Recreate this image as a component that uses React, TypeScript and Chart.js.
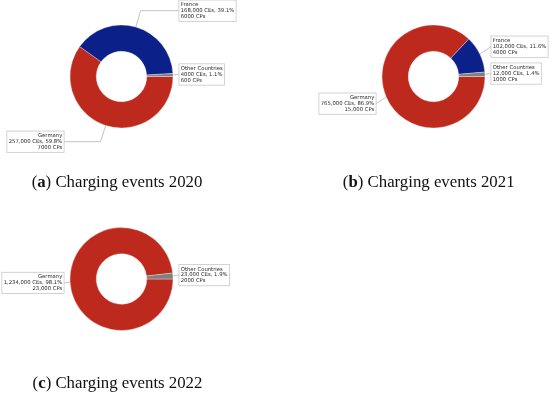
import React, { useEffect, useRef } from 'react';
import { Chart, registerables } from 'chart.js';

Chart.register(...registerables);

// ---- data ----
const countries = ['Germany', 'France', 'Other Countries'];
const countries2022 = ['Germany', 'Other Countries'];

const ces2020 = [257000, 168000, 4000];
const pct2020 = ['59.8', '39.1', '1.1'];
const cps2020 = [7000, 6000, 600];

const ces2021 = [765000, 102000, 12000];
const pct2021 = ['86.9', '11.6', '1.4'];
const cps2021 = [15000, 4000, 1000];

const ces2022 = [1234000, 23000];
const pct2022 = ['98.1', '1.9'];
const cps2022 = [23000, 2000];

const captions = [
  { letter: 'a', text: ' Charging events 2020' },
  { letter: 'b', text: ' Charging events 2021' },
  { letter: 'c', text: ' Charging events 2022' },
];

// ---- styles ----
const countryColors: Record<string, string> = {
  Germany: '#BE291D',
  France: '#0B2189',
  'Other Countries': '#7F7F7F',
};

const FONT_SIZE = 5.3;
const LINE_H = 5.9;
const PAD = 1.8;

function fmt(n: number): string {
  return n >= 10000 ? n.toLocaleString('en-US') : String(n);
}

function buildLines(names: string[], ces: number[], pct: string[], cps: number[]): string[][] {
  return names.map((n, i) => [n, `${fmt(ces[i])} CEs, ${pct[i]}%`, `${fmt(cps[i])} CPs`]);
}

const calloutPlugin = {
  id: 'callouts',
  beforeDatasetsDraw(chart: any, _args: any, opts: any) {
    const ctx: CanvasRenderingContext2D = chart.ctx;
    const meta = chart.getDatasetMeta(0);
    const lines: string[][] = opts.lines || [];
    ctx.save();
    ctx.font = `${FONT_SIZE}px "DejaVu Sans"`;
    meta.data.forEach((arc: any, i: number) => {
      const { x, y, startAngle, endAngle, outerRadius } = arc.getProps(
        ['x', 'y', 'startAngle', 'endAngle', 'outerRadius'],
        true
      );
      const mid = (startAngle + endAngle) / 2;
      const c = Math.cos(mid);
      const s = Math.sin(mid);
      const ax = x + outerRadius * c;
      const ay = y + outerRadius * s;
      const side = c >= 0 ? 1 : -1;
      const tx = x + side * 1.15 * outerRadius;
      const ty = y + 1.33 * outerRadius * s;
      const txt = lines[i] || [];
      const w = Math.max(...txt.map((t) => ctx.measureText(t).width));
      const h = txt.length * LINE_H;
      const boxL = side > 0 ? tx - PAD : tx - w - PAD;
      const boxW = w + 2 * PAD;
      const boxT = ty - h / 2 - PAD;
      const boxH = h + 2 * PAD;
      const edgeX = side > 0 ? boxL : boxL + boxW;

      // leader line
      ctx.strokeStyle = '#b4b4b4';
      ctx.lineWidth = 0.8;
      ctx.beginPath();
      ctx.moveTo(edgeX, ty);
      let drewCorner = false;
      if (Math.abs(s) > 1e-3) {
        const cornerX = x + ((ty - y) * c) / s;
        if ((cornerX - ax) * side >= 0 && (edgeX - cornerX) * side >= 0) {
          ctx.lineTo(cornerX, ty);
          drewCorner = true;
        }
      }
      ctx.lineTo(ax, ay);
      ctx.stroke();
      void drewCorner;

      // box
      ctx.fillStyle = '#ffffff';
      ctx.fillRect(boxL, boxT, boxW, boxH);
      ctx.strokeStyle = '#c8c8c8';
      ctx.lineWidth = 0.8;
      ctx.strokeRect(boxL, boxT, boxW, boxH);

      // text
      ctx.fillStyle = '#2a2a2a';
      ctx.textBaseline = 'middle';
      ctx.textAlign = side > 0 ? 'left' : 'right';
      txt.forEach((t, j) => {
        ctx.fillText(t, tx, ty - h / 2 + LINE_H * (j + 0.5));
      });
    });
    ctx.restore();
  },
};

type DonutProps = {
  names: string[];
  ces: number[];
  pct: string[];
  cps: number[];
  left: number;
  top: number;
  width: number;
  height: number;
  cx: number;
  cy: number;
};

const RADIUS = 51.5;

function Donut({ names, ces, pct, cps, left, top, width, height, cx, cy }: DonutProps) {
  const ref = useRef<HTMLCanvasElement | null>(null);
  useEffect(() => {
    if (!ref.current) return;
    const half = RADIUS + 2;
    const chart = new Chart(ref.current, {
      type: 'doughnut',
      data: {
        labels: names,
        datasets: [
          {
            data: ces,
            backgroundColor: names.map((n) => countryColors[n]),
            borderColor: 'rgba(255,255,255,0.55)',
            borderWidth: 0.6,
          },
        ],
      },
      options: {
        responsive: false,
        animation: false,
        devicePixelRatio: 1,
        rotation: 90,
        radius: RADIUS,
        cutout: '49%',
        layout: {
          padding: {
            left: cx - half,
            top: cy - half,
            right: width - (cx + half),
            bottom: height - (cy + half),
          },
        },
        plugins: {
          legend: { display: false },
          tooltip: { enabled: false },
          callouts: { lines: buildLines(names, ces, pct, cps) },
        } as any,
        events: [],
      },
      plugins: [calloutPlugin],
    });
    return () => chart.destroy();
  }, []);
  return (
    <canvas
      ref={ref}
      width={width}
      height={height}
      style={{ position: 'absolute', left, top, width, height }}
    />
  );
}

function Caption({ letter, text, center, top }: { letter: string; text: string; center: number; top: number }) {
  return (
    <div
      style={{
        position: 'absolute',
        left: center - 137.5,
        top,
        width: 275,
        textAlign: 'center',
        fontFamily: '"Liberation Serif", serif',
        fontSize: 16.8,
        lineHeight: '17px',
        color: '#111',
        whiteSpace: 'nowrap',
      }}
    >
      (<b>{letter}</b>){text}
    </div>
  );
}

export default function App() {
  return (
    <div
      style={{
        position: 'absolute',
        left: 0,
        top: 0,
        width: 550,
        height: 395,
        background: '#fff',
        overflow: 'hidden',
      }}
    >
      <Donut names={countries} ces={ces2020} pct={pct2020} cps={cps2020} left={0} top={0} width={275} height={200} cx={121.5} cy={76.5} />
      <Donut names={countries} ces={ces2021} pct={pct2021} cps={cps2021} left={275} top={0} width={275} height={200} cx={158.5} cy={76.5} />
      <Donut names={countries2022} ces={ces2022} pct={pct2022} cps={cps2022} left={0} top={200} width={275} height={195} cx={121.5} cy={79} />
      <Caption letter={captions[0].letter} text={captions[0].text} center={117} top={172.7} />
      <Caption letter={captions[1].letter} text={captions[1].text} center={428.7} top={172.7} />
      <Caption letter={captions[2].letter} text={captions[2].text} center={117.5} top={373.7} />
    </div>
  );
}
